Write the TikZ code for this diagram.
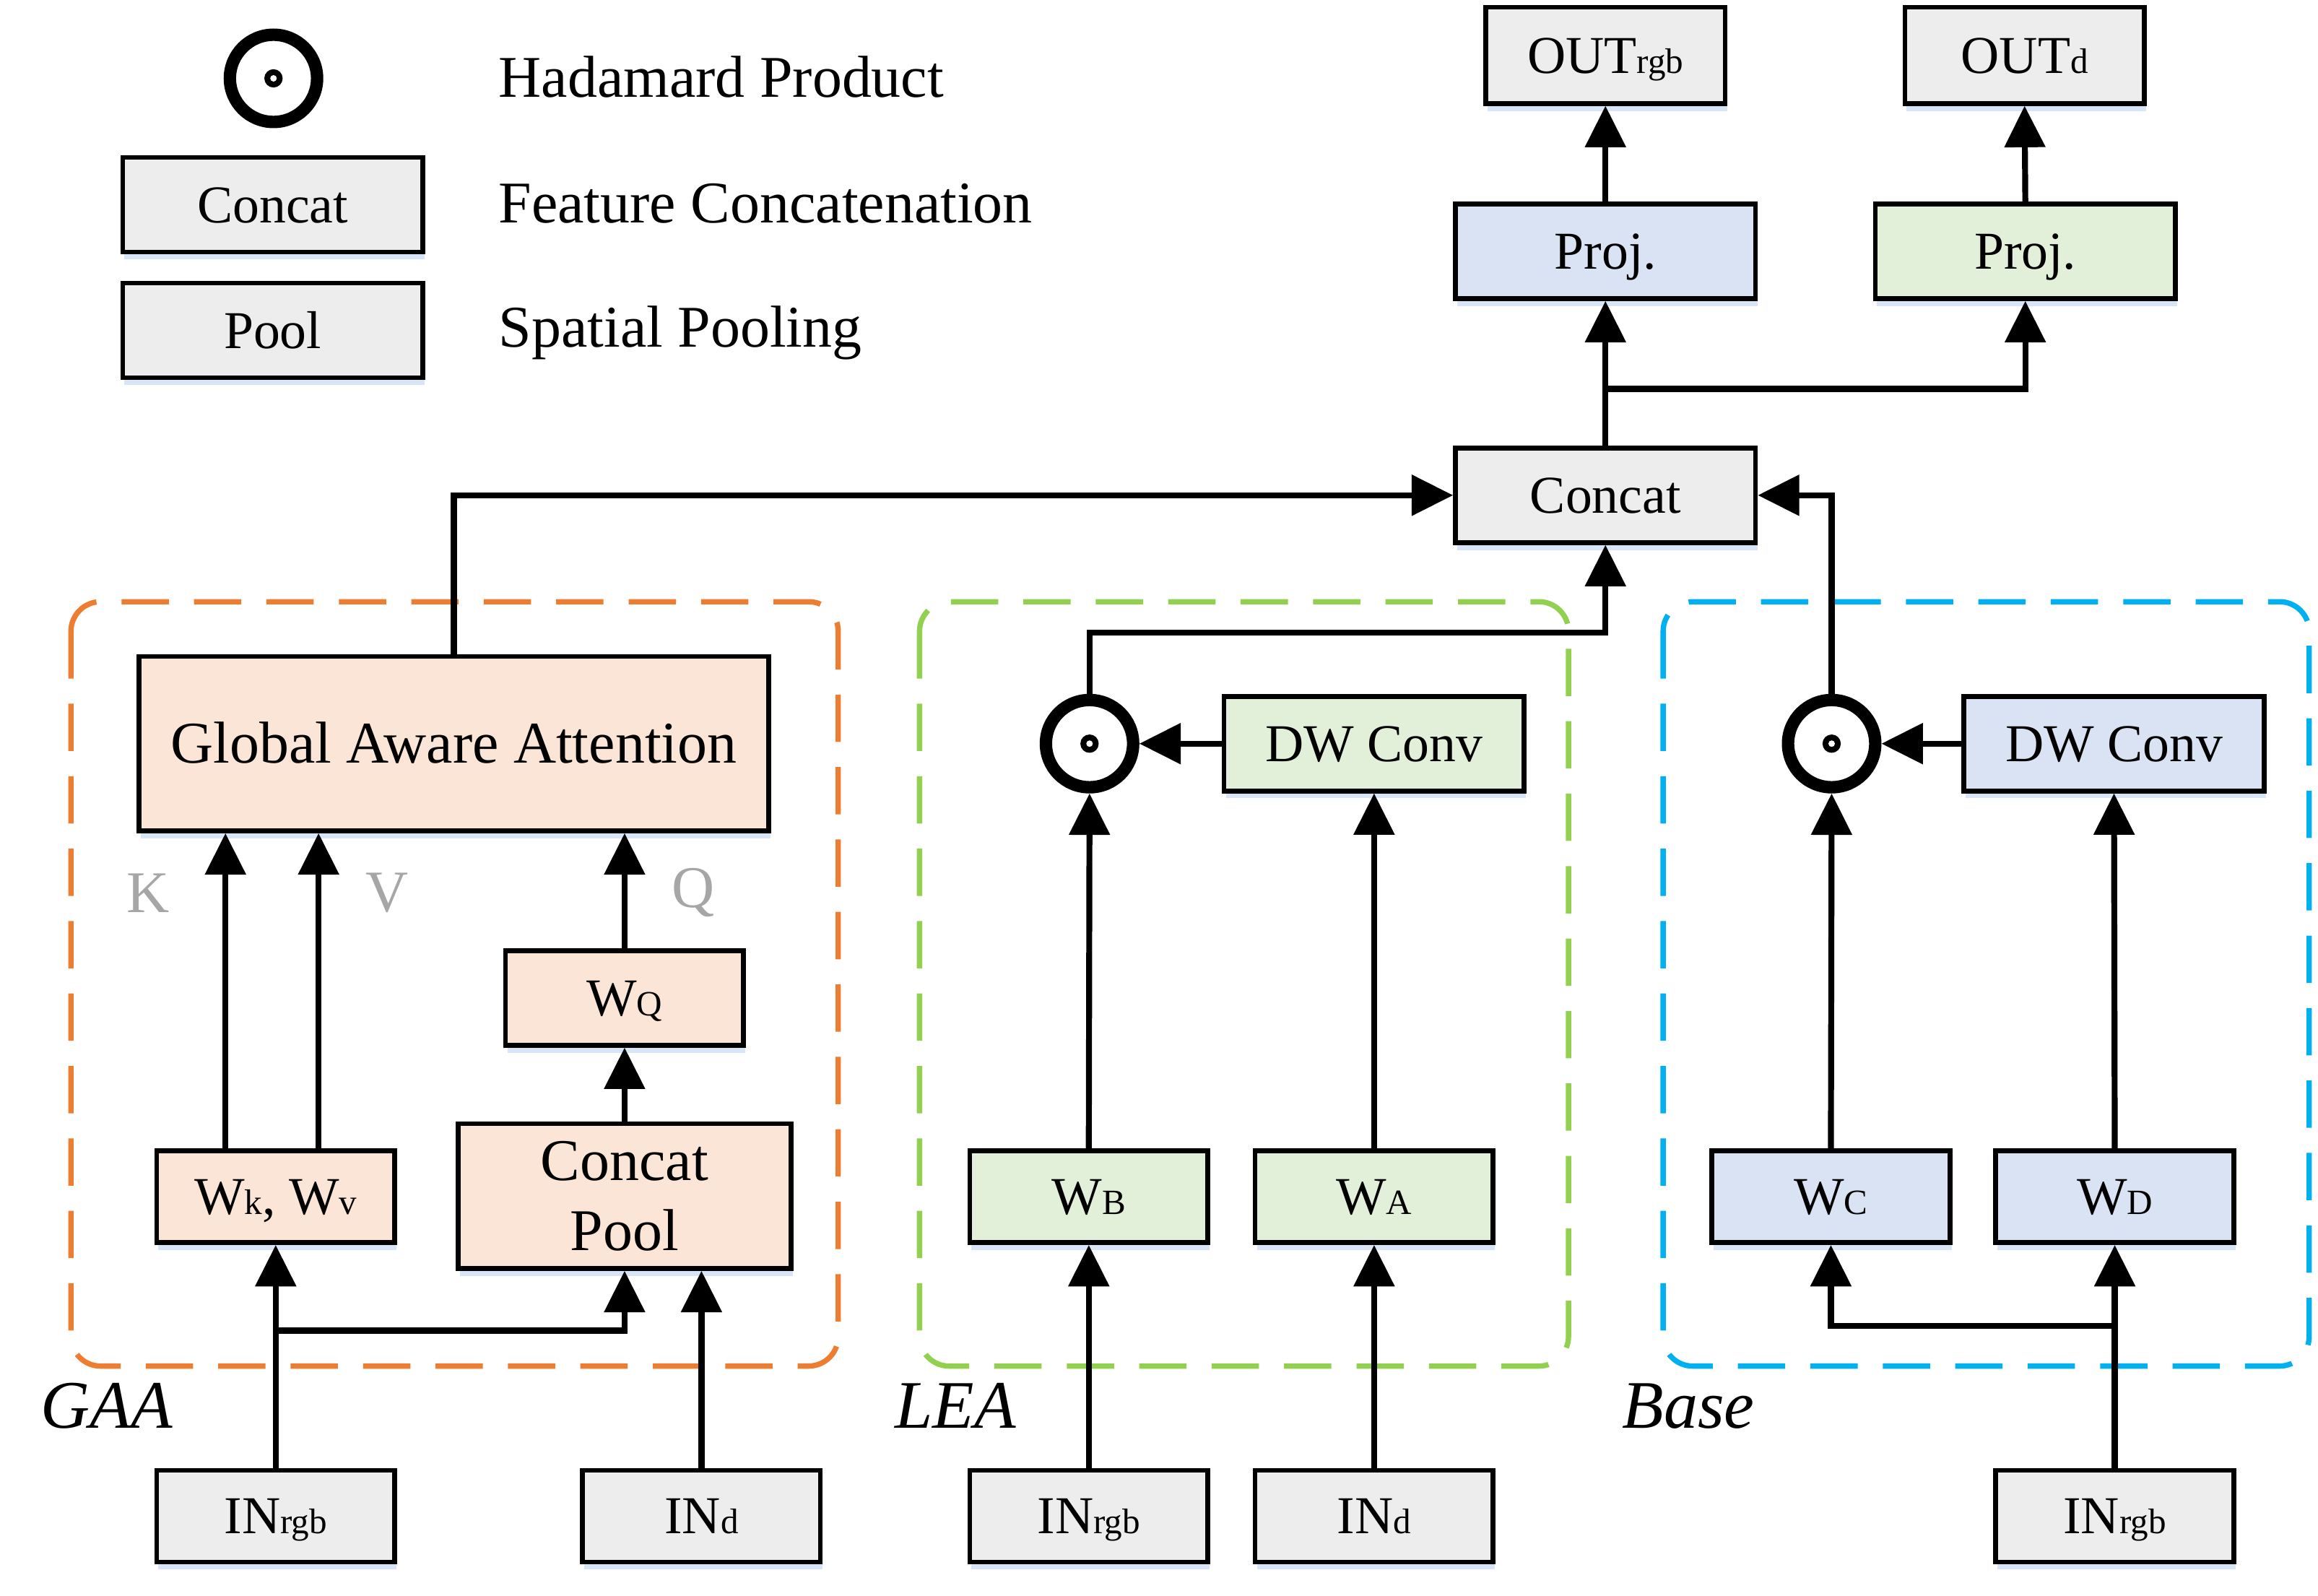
\documentclass[tikz,border=0pt]{standalone}
\usepackage{fontspec}
\setmainfont{Liberation Serif}
\usetikzlibrary{arrows.meta,shadows,calc}
\definecolor{boxgray}{RGB}{237,237,237}
\definecolor{boxorange}{RGB}{251,229,214}
\definecolor{boxgreen}{RGB}{226,240,217}
\definecolor{boxblue}{RGB}{218,227,243}
\definecolor{dashorange}{RGB}{237,125,49}
\definecolor{dashgreen}{RGB}{146,208,80}
\definecolor{dashblue}{RGB}{0,176,240}
\definecolor{labgray}{RGB}{166,166,166}
\definecolor{shadowblue}{RGB}{200,218,242}
\newcommand{\sbs}[1]{{\fontsize{12}{12}\selectfont #1}}
\begin{document}
\begin{tikzpicture}[x=0.5pt,y=-0.5pt,
  bx/.style={draw, line width=1.6pt, inner sep=0pt,
    drop shadow={shadow xshift=0.6pt,shadow yshift=-2.5pt,fill=shadowblue,opacity=0.7}},
  box/.style={bx, font=\fontsize{18}{21}\selectfont, text height=13pt, text depth=1pt,
    minimum width=80.5pt, minimum height=31pt},
  wide/.style={minimum width=101.5pt, minimum height=32pt},
  hada/.style={circle, draw, line width=4.2pt, minimum size=29.5pt, inner sep=0pt, fill=white,
    path picture={\fill[black] (path picture bounding box.center) circle (3.1pt);
      \fill[white] (path picture bounding box.center) circle (1.1pt);}},
  arr/.style={line width=2pt, -{Triangle[length=14pt,width=13.5pt]}},
  region/.style={line width=1.8pt, dash pattern=on 16pt off 8.5pt, rounded corners=10pt},
  lt/.style={font=\fontsize{20}{24}\selectfont, inner sep=0pt},
  kl/.style={font=\fontsize{20}{24}\selectfont, text=labgray, inner sep=0pt},
  grp/.style={font=\fontsize{23}{27}\selectfont\itshape, inner sep=0pt}
]
\useasboundingbox (0,0) rectangle (1568,1079.5);

% legend
\node[hada] (lh) at (185,53) {};
\node[box, wide, fill=boxgray] (lc) at (184.5,138.5) {Concat};
\node[box, wide, fill=boxgray] (lp) at (184.5,223.5) {Pool};
\node[lt, anchor=base west] (lht) at (337,65.5) {Hadamard Product};
\node[lt, anchor=base west] (lct) at (337,150.5) {Feature Concatenation};
\node[lt, anchor=base west] (lpt) at (337,234.7) {Spatial Pooling};

% regions
\draw[region, dashorange] (48,407) rectangle (567,924);
\draw[region, dashgreen] (622,407) rectangle (1061,924);
\draw[region, dashblue] (1125,407) rectangle (1562,924);

% top
\node[box, fill=boxgray, minimum width=81pt, minimum height=32.5pt] (outr) at (1086,37.5) {OUT\sbs{rgb}};
\node[box, fill=boxgray, minimum width=81pt, minimum height=32.5pt] (outd) at (1369.5,37.5) {OUT\sbs{d}};
\node[box, wide, fill=boxblue] (projb) at (1086,170) {Proj.};
\node[box, wide, fill=boxgreen] (projg) at (1370,170) {Proj.};
\node[box, wide, fill=boxgray] (cat) at (1086,335) {Concat};

% GAA
\node[bx, fill=boxorange, minimum width=213pt, minimum height=59pt,
  font=\fontsize{20}{24}\selectfont, text height=14pt, text depth=0.8pt] (gaa) at (307,503) {Global Aware Attention};
\node[box, fill=boxorange] (wkv) at (186.5,809.5) {W\sbs{k}, W\sbs{v}};
\node[box, fill=boxorange, minimum height=32pt] (wq) at (422.5,675) {W\sbs{Q}};
\node[bx, fill=boxorange, minimum width=112.5pt, minimum height=49pt, align=center,
  font=\fontsize{20}{23.5}\selectfont] (cpool) at (422.5,809) {Concat\\Pool};
\node[box, fill=boxgray] (in1) at (186.5,1025.5) {IN\sbs{rgb}};
\node[box, fill=boxgray] (in2) at (474.5,1025.5) {IN\sbs{d}};
\node[kl] (kk) at (100,604) {K};
\node[kl] (vv) at (262,604) {V};
\node[kl] (qq) at (469,604) {Q};
\node[grp, anchor=base west] (gaal) at (27,966) {GAA};

% LEA
\node[hada] (h1) at (737,503) {};
\node[box, wide, fill=boxgreen] (dw1) at (929.5,503) {DW Conv};
\node[box, fill=boxgreen] (wb) at (736.5,809.5) {W\sbs{B}};
\node[box, fill=boxgreen] (wa) at (929.5,809.5) {W\sbs{A}};
\node[box, fill=boxgray] (in3) at (736.5,1025.5) {IN\sbs{rgb}};
\node[box, fill=boxgray] (in4) at (929.5,1025.5) {IN\sbs{d}};
\node[grp, anchor=base west] (leal) at (605,966) {LEA};

% Base
\node[hada] (h2) at (1239,503) {};
\node[box, wide, fill=boxblue] (dw2) at (1430,503) {DW Conv};
\node[box, fill=boxblue] (wc) at (1238.5,809.5) {W\sbs{C}};
\node[box, fill=boxblue] (wd) at (1430.5,809.5) {W\sbs{D}};
\node[box, fill=boxgray] (in5) at (1430.5,1025.5) {IN\sbs{rgb}};
\node[grp, anchor=base west] (basel) at (1097,966) {Base};

% coordinates
\coordinate (j1) at (1086,428);
\coordinate (j2) at (1086,263);
\coordinate (j3) at (186.5,900);
\coordinate (j4) at (1430.5,897);

% top connectors
\draw[arr] (gaa.north) |- (cat.west);
\draw[arr] (h1.north) |- (j1) -- (cat.south);
\draw[arr] (h2.north) |- (cat.east);
\draw[arr] (cat.north) -- (projb.south);
\draw[arr] (j2) -| (projg.south);
\draw[arr] (projb.north) -- (outr.south);
\draw[arr] (projg.north) -- (outd.south);

% GAA connectors
\draw[arr] ([xshift=-17pt]wkv.north) -- ([xshift=-17pt]wkv.north |- gaa.south);
\draw[arr] ([xshift=14.5pt]wkv.north) -- ([xshift=14.5pt]wkv.north |- gaa.south);
\draw[arr] (wq.north) -- (wq.north |- gaa.south);
\draw[arr] (cpool.north) -- (wq.south);
\draw[arr] (in1.north) -- (wkv.south);
\draw[arr] (j3) -| (cpool.south);
\draw[arr] (in2.north) -- (in2.north |- cpool.south);

% LEA connectors
\draw[arr] (dw1.west) -- (h1.east);
\draw[arr] (wb.north) -- (h1.south);
\draw[arr] (wa.north) -- (dw1.south);
\draw[arr] (in3.north) -- (wb.south);
\draw[arr] (in4.north) -- (wa.south);

% Base connectors
\draw[arr] (dw2.west) -- (h2.east);
\draw[arr] (wc.north) -- (h2.south);
\draw[arr] (wd.north) -- (dw2.south);
\draw[arr] (in5.north) -- (wd.south);
\draw[arr] (j4) -| (wc.south);
\end{tikzpicture}
\end{document}
